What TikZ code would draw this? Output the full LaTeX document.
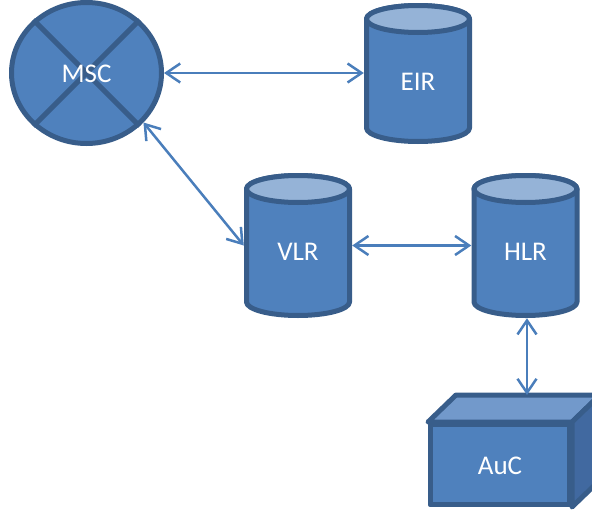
\documentclass[tikz,border=0pt]{standalone}
\usepackage{fontspec}
\setmainfont{Carlito}
\usetikzlibrary{arrows.meta,shapes.geometric}
\definecolor{boxfill}{HTML}{4F81BD}
\definecolor{boxedge}{HTML}{385D8A}
\definecolor{cyltop}{HTML}{95B3D7}
\definecolor{cubetop}{HTML}{7299CB}
\definecolor{cubeside}{HTML}{4169A0}
\definecolor{linkcol}{HTML}{4A7EBB}
\begin{document}
\begin{tikzpicture}[x=1pt,y=1pt,
  shapeedge/.style={draw=boxedge, line width=5pt, line join=round},
  txt/.style={text=white, font=\fontsize{27}{31}\selectfont, inner sep=0pt},
  link/.style={draw=linkcol, line width=2.5pt,
    {Straight Barb[length=14pt,width=19pt]}-{Straight Barb[length=14pt,width=19pt]}}]
\clip (0,0) rectangle (592,-514);

% MSC: switching centre drawn as a crossed ellipse
\node[ellipse, shapeedge, fill=boxfill, minimum width=150pt, minimum height=141pt, inner sep=0pt] (msc) at (86.5,-73) {};
\draw[shapeedge, line cap=butt] (msc.45) -- (msc.225);
\draw[shapeedge, line cap=butt] (msc.135) -- (msc.-45);
\node[txt] (msc-text) at (86.5,-73.5) {MSC};

% database cylinders: name / centre x / outer top / outer bottom / label
\foreach \n/\cx/\ty/\by/\t in {eir/418/3/144/EIR, vlr/298/173/318/VLR, hlr/525.5/173/318/HLR}{
  \pgfmathsetmacro\yt{-(\ty+2.5)}
  \pgfmathsetmacro\yb{-(\by-2.5)}
  \pgfmathsetmacro\yte{\yt-13.5}
  \pgfmathsetmacro\ybe{\yb+13.5}
  \pgfmathsetmacro\xl{\cx-51.5}
  \pgfmathsetmacro\xr{\cx+51.5}
  \pgfmathsetmacro\h{\by-\ty}
  \pgfmathsetmacro\ym{-(\ty+\by)/2}
  \pgfmathsetmacro\ylab{-(\ty+79)}
  \path[shapeedge, fill=boxfill] (\xl,\yte) -- (\xl,\ybe)
    arc[start angle=180, end angle=360, x radius=51.5, y radius=13.5]
    -- (\xr,\yte)
    arc[start angle=0, end angle=180, x radius=51.5, y radius=13.5] -- cycle;
  \draw[shapeedge, fill=cyltop] (\cx,\yte) ellipse[x radius=51.5, y radius=13.5];
  \node[minimum width=108pt, minimum height=\h pt, inner sep=0pt] (\n) at (\cx,\ym) {};
  \node[txt] (\n-text) at (\cx,\ylab) {\t};
}

% AuC: box with top and side faces
\node[shapeedge, fill=boxfill, minimum width=139pt, minimum height=80pt, inner sep=0pt] (auc) at (500,-464.5) {};
\path[shapeedge, fill=cubetop] (auc.north west) -- ([shift={(28,27)}]auc.north west)
  -- ([shift={(28,27)}]auc.north east) -- (auc.north east) -- cycle;
\path[shapeedge, fill=cubeside] (auc.north east) -- ([shift={(28,27)}]auc.north east)
  -- ([shift={(28,27)}]auc.south east) -- (auc.south east) -- cycle;
\node[shapeedge, fill=boxfill, minimum width=139pt, minimum height=80pt, inner sep=0pt] (auc-front) at (auc) {};
\node[txt] (auc-text) at (500,-466) {AuC};
\coordinate (auc-top) at ([shift={(28,27)}]auc.north west);

% links
\draw[link] (msc.east) -- (msc.east -| eir.west);
\draw[link] (msc.-41) -- (vlr.west);
\draw[link] (vlr.east) -- (hlr.west);
\draw[link] ([xshift=1.5pt]hlr.south) -- ([xshift=1.5pt]hlr.south |- auc-top);
\end{tikzpicture}
\end{document}
